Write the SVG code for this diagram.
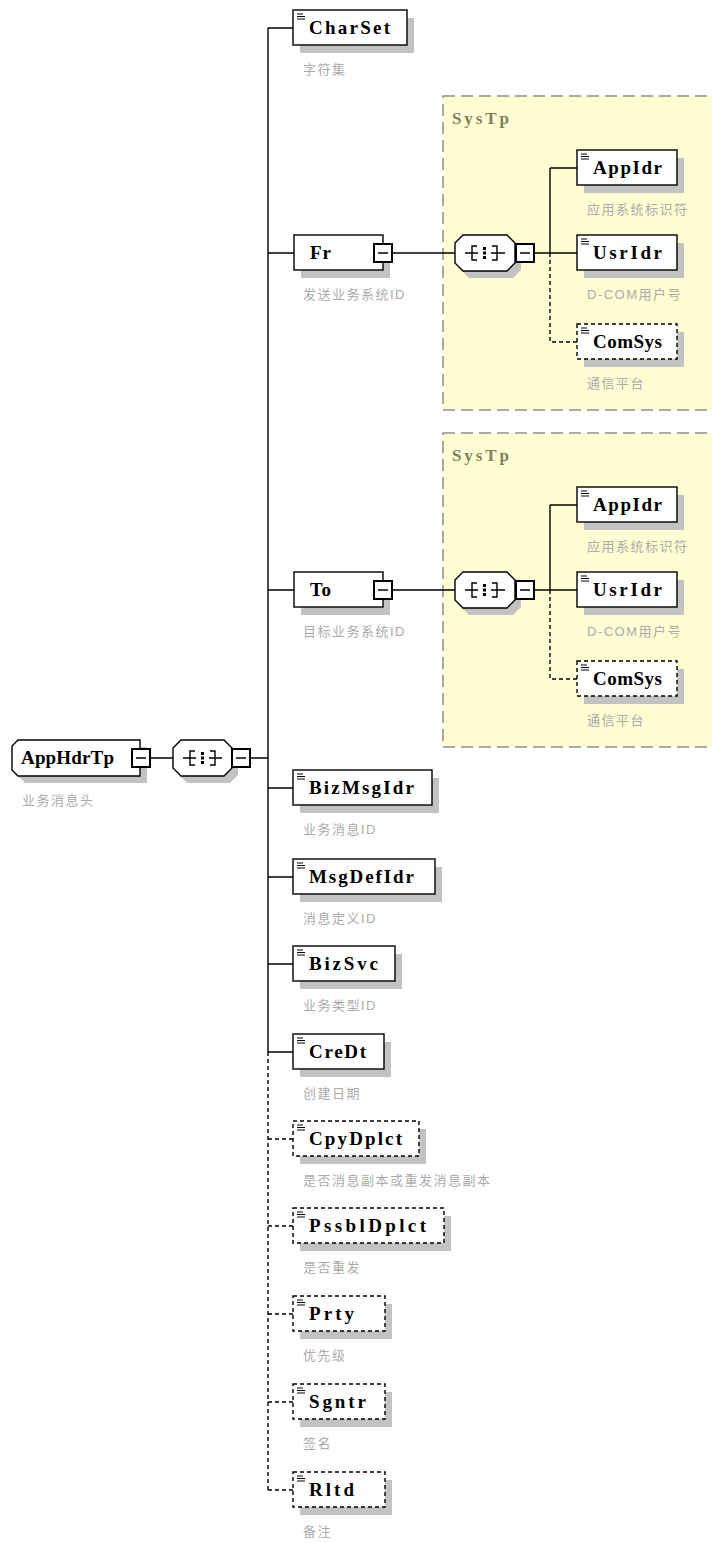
<svg xmlns="http://www.w3.org/2000/svg" width="712" height="1543" viewBox="0 0 712 1543">
<defs>
<style>
.sh{fill:#c2c2c2;stroke:none}
.box{fill:#fff;stroke:#000;stroke-width:1.4}
.opt{fill:#fff;stroke:#000;stroke-width:1.4;stroke-dasharray:4,3}
.ic{stroke:#000;stroke-width:1;fill:none}
.nm{font-family:"Liberation Serif",serif;font-weight:bold;font-size:19px;fill:#000}
.lbl{font-family:"Liberation Sans","Noto Sans CJK SC",sans-serif;font-size:13px;fill:#ababab;letter-spacing:1.5px}
.ln{stroke:#000;stroke-width:1.4;fill:none}
.dl{stroke:#000;stroke-width:1.4;fill:none;stroke-dasharray:4,3}
.mb{fill:#fff;stroke:#000;stroke-width:2}
.mi{stroke:#000;stroke-width:1.5}
.sys{fill:#fffdd2;stroke:#8f8f8f;stroke-width:1.5;stroke-dasharray:12,6}
.syst{font-family:"Liberation Serif",serif;font-weight:bold;font-size:17px;fill:#7f7f60}
.cmp{fill:#fff;stroke:#000;stroke-width:1.4}
.dot{fill:#000}
</style>
</defs>
<rect width="712" height="1543" fill="#fff"/>

<!-- SysTp containers -->
<g id="systp1">
<rect class="sys" x="443" y="96" width="290" height="314"/>
<text class="syst" x="452" y="124" textLength="57" lengthAdjust="spacing">SysTp</text>
</g>
<g id="systp2">
<rect class="sys" x="443" y="433" width="290" height="314"/>
<text class="syst" x="452" y="461" textLength="57" lengthAdjust="spacing">SysTp</text>
</g>

<!-- connectors -->
<g id="connectors">
<path class="ln" d="M150,758H173M250,758H268"/>
<path class="ln" d="M268,28V1052"/>
<path class="dl" d="M268,1052V1490"/>
<path class="ln" d="M268,28H293M268,253H294M268,590H294M268,788H293M268,877H293M268,964H293M268,1052H293"/>
<path class="dl" d="M268,1139H293M268,1226H293M268,1314H293M268,1402H293M268,1490H293"/>
<path class="ln" d="M392,253H455M534,253H550M550,168V253M550,168H577M550,253H577"/>
<path class="dl" d="M550,253V342H577"/>
<path class="ln" d="M392,590H455M534,590H550M550,505V590M550,505H577M550,590H577"/>
<path class="dl" d="M550,590V679H577"/>
</g>

<!-- root -->
<g id="n-AppHdrTp">
<path class="sh" d="M25,747H147V783H25L19,777V753Z"/>
<path class="box" d="M18,740H140V776H18L12,770V746Z"/>
<text class="nm" x="21" y="764" textLength="93" lengthAdjust="spacing">AppHdrTp</text>
<rect class="mb" x="132" y="749" width="18" height="18"/>
<path class="mi" d="M136,758H146"/>
<text class="lbl" x="22" y="805">业务消息头</text>
</g>

<g id="seq-root">
<path class="sh" d="M187,747H230L238,755V775L230,783H187L179,775V755Z"/>
<path class="cmp" d="M181,740H224L232,748V768L224,776H181L173,768V748Z"/>
<path class="ln" d="M183,758H196M209,758H222M195,751H190V765H195M210,751H215V765H210"/>
<rect class="dot" x="201" y="752" width="3" height="3"/>
<rect class="dot" x="201" y="756.5" width="3" height="3"/>
<rect class="dot" x="201" y="761" width="3" height="3"/>
<rect class="mb" x="232" y="749" width="18" height="18"/>
<path class="mi" d="M236,758H246"/>
</g>

<!-- CharSet -->
<g id="n-CharSet">
<rect class="sh" x="300" y="18" width="114" height="35"/>
<rect class="box" x="293" y="10" width="114" height="35"/>
<path class="ic" d="M297,14h6M297,16.5h8M297,19h8"/>
<text class="nm" x="309" y="34" textLength="81" lengthAdjust="spacing">CharSet</text>
<text class="lbl" x="303" y="74">字符集</text>
</g>

<!-- Fr -->
<g id="n-Fr">
<rect class="sh" x="301" y="243" width="89" height="35"/>
<rect class="box" x="294" y="235" width="89" height="35"/>
<text class="nm" x="310" y="259" textLength="21" lengthAdjust="spacing">Fr</text>
<rect class="mb" x="374" y="244" width="18" height="18"/>
<path class="mi" d="M378,253H388"/>
<text class="lbl" x="303" y="299">发送业务系统ID</text>
</g>
<g id="seq-Fr">
<path class="sh" d="M469,242H513L521,250V270L513,278H469L461,270V250Z"/>
<path class="cmp" d="M463,235H507L515,243V263L507,271H463L455,263V243Z"/>
<path class="ln" d="M465,253H478M491,253H505M477,246H472V260H477M492,246H497V260H492"/>
<rect class="dot" x="483" y="247" width="3" height="3"/>
<rect class="dot" x="483" y="251.5" width="3" height="3"/>
<rect class="dot" x="483" y="256" width="3" height="3"/>
<rect class="mb" x="516" y="244" width="18" height="18"/>
<path class="mi" d="M520,253H530"/>
</g>
<g id="n-Fr-AppIdr">
<rect class="sh" x="584" y="158" width="100" height="35"/>
<rect class="box" x="577" y="150" width="100" height="35"/>
<path class="ic" d="M581,154h6M581,156.5h8M581,159h8"/>
<text class="nm" x="593" y="174" textLength="69" lengthAdjust="spacing">AppIdr</text>
<text class="lbl" x="587" y="214">应用系统标识符</text>
</g>
<g id="n-Fr-UsrIdr">
<rect class="sh" x="584" y="243" width="100" height="35"/>
<rect class="box" x="577" y="235" width="100" height="35"/>
<path class="ic" d="M581,239h6M581,241.5h8M581,244h8"/>
<text class="nm" x="593" y="259" textLength="69" lengthAdjust="spacing">UsrIdr</text>
<text class="lbl" x="587" y="299">D-COM用户号</text>
</g>
<g id="n-Fr-ComSys">
<rect class="sh" x="584" y="332" width="100" height="35"/>
<rect class="opt" x="577" y="324" width="100" height="35"/>
<path class="ic" d="M581,328h6M581,330.5h8M581,333h8"/>
<text class="nm" x="593" y="348" textLength="69" lengthAdjust="spacing">ComSys</text>
<text class="lbl" x="587" y="388">通信平台</text>
</g>

<!-- To -->
<g id="n-To">
<rect class="sh" x="301" y="580" width="89" height="35"/>
<rect class="box" x="294" y="572" width="89" height="35"/>
<text class="nm" x="310" y="596" textLength="21" lengthAdjust="spacing">To</text>
<rect class="mb" x="374" y="581" width="18" height="18"/>
<path class="mi" d="M378,590H388"/>
<text class="lbl" x="303" y="636">目标业务系统ID</text>
</g>
<g id="seq-To">
<path class="sh" d="M469,579H513L521,587V607L513,615H469L461,607V587Z"/>
<path class="cmp" d="M463,572H507L515,580V600L507,608H463L455,600V580Z"/>
<path class="ln" d="M465,590H478M491,590H505M477,583H472V597H477M492,583H497V597H492"/>
<rect class="dot" x="483" y="584" width="3" height="3"/>
<rect class="dot" x="483" y="588.5" width="3" height="3"/>
<rect class="dot" x="483" y="593" width="3" height="3"/>
<rect class="mb" x="516" y="581" width="18" height="18"/>
<path class="mi" d="M520,590H530"/>
</g>
<g id="n-To-AppIdr">
<rect class="sh" x="584" y="495" width="100" height="35"/>
<rect class="box" x="577" y="487" width="100" height="35"/>
<path class="ic" d="M581,491h6M581,493.5h8M581,496h8"/>
<text class="nm" x="593" y="511" textLength="69" lengthAdjust="spacing">AppIdr</text>
<text class="lbl" x="587" y="551">应用系统标识符</text>
</g>
<g id="n-To-UsrIdr">
<rect class="sh" x="584" y="580" width="100" height="35"/>
<rect class="box" x="577" y="572" width="100" height="35"/>
<path class="ic" d="M581,576h6M581,578.5h8M581,581h8"/>
<text class="nm" x="593" y="596" textLength="69" lengthAdjust="spacing">UsrIdr</text>
<text class="lbl" x="587" y="636">D-COM用户号</text>
</g>
<g id="n-To-ComSys">
<rect class="sh" x="584" y="669" width="100" height="35"/>
<rect class="opt" x="577" y="661" width="100" height="35"/>
<path class="ic" d="M581,665h6M581,667.5h8M581,670h8"/>
<text class="nm" x="593" y="685" textLength="69" lengthAdjust="spacing">ComSys</text>
<text class="lbl" x="587" y="725">通信平台</text>
</g>

<!-- remaining elements -->
<g id="n-BizMsgIdr">
<rect class="sh" x="300" y="778" width="139" height="35"/>
<rect class="box" x="293" y="770" width="139" height="35"/>
<path class="ic" d="M297,774h6M297,776.5h8M297,779h8"/>
<text class="nm" x="309" y="794" textLength="105" lengthAdjust="spacing">BizMsgIdr</text>
<text class="lbl" x="303" y="834">业务消息ID</text>
</g>
<g id="n-MsgDefIdr">
<rect class="sh" x="300" y="867" width="142" height="35"/>
<rect class="box" x="293" y="859" width="142" height="35"/>
<path class="ic" d="M297,863h6M297,865.5h8M297,868h8"/>
<text class="nm" x="309" y="883" textLength="105" lengthAdjust="spacing">MsgDefIdr</text>
<text class="lbl" x="303" y="923">消息定义ID</text>
</g>
<g id="n-BizSvc">
<rect class="sh" x="300" y="954" width="102" height="35"/>
<rect class="box" x="293" y="946" width="102" height="35"/>
<path class="ic" d="M297,950h6M297,952.5h8M297,955h8"/>
<text class="nm" x="309" y="970" textLength="69" lengthAdjust="spacing">BizSvc</text>
<text class="lbl" x="303" y="1010">业务类型ID</text>
</g>
<g id="n-CreDt">
<rect class="sh" x="300" y="1042" width="91" height="35"/>
<rect class="box" x="293" y="1034" width="91" height="35"/>
<path class="ic" d="M297,1038h6M297,1040.5h8M297,1043h8"/>
<text class="nm" x="309" y="1058" textLength="57" lengthAdjust="spacing">CreDt</text>
<text class="lbl" x="303" y="1098">创建日期</text>
</g>
<g id="n-CpyDplct">
<rect class="sh" x="300" y="1129" width="126" height="35"/>
<rect class="opt" x="293" y="1121" width="126" height="35"/>
<path class="ic" d="M297,1125h6M297,1127.5h8M297,1130h8"/>
<text class="nm" x="309" y="1145" textLength="93" lengthAdjust="spacing">CpyDplct</text>
<text class="lbl" x="303" y="1185">是否消息副本或重发消息副本</text>
</g>
<g id="n-PssblDplct">
<rect class="sh" x="300" y="1216" width="151" height="35"/>
<rect class="opt" x="293" y="1208" width="151" height="35"/>
<path class="ic" d="M297,1212h6M297,1214.5h8M297,1217h8"/>
<text class="nm" x="309" y="1232" textLength="117" lengthAdjust="spacing">PssblDplct</text>
<text class="lbl" x="303" y="1272">是否重发</text>
</g>
<g id="n-Prty">
<rect class="sh" x="300" y="1304" width="92" height="35"/>
<rect class="opt" x="293" y="1296" width="92" height="35"/>
<path class="ic" d="M297,1300h6M297,1302.5h8M297,1305h8"/>
<text class="nm" x="309" y="1320" textLength="45" lengthAdjust="spacing">Prty</text>
<text class="lbl" x="303" y="1360">优先级</text>
</g>
<g id="n-Sgntr">
<rect class="sh" x="300" y="1392" width="92" height="35"/>
<rect class="opt" x="293" y="1384" width="92" height="35"/>
<path class="ic" d="M297,1388h6M297,1390.5h8M297,1393h8"/>
<text class="nm" x="309" y="1408" textLength="57" lengthAdjust="spacing">Sgntr</text>
<text class="lbl" x="303" y="1448">签名</text>
</g>
<g id="n-Rltd">
<rect class="sh" x="300" y="1480" width="92" height="35"/>
<rect class="opt" x="293" y="1472" width="92" height="35"/>
<path class="ic" d="M297,1476h6M297,1478.5h8M297,1481h8"/>
<text class="nm" x="309" y="1496" textLength="45" lengthAdjust="spacing">Rltd</text>
<text class="lbl" x="303" y="1536">备注</text>
</g>
</svg>
